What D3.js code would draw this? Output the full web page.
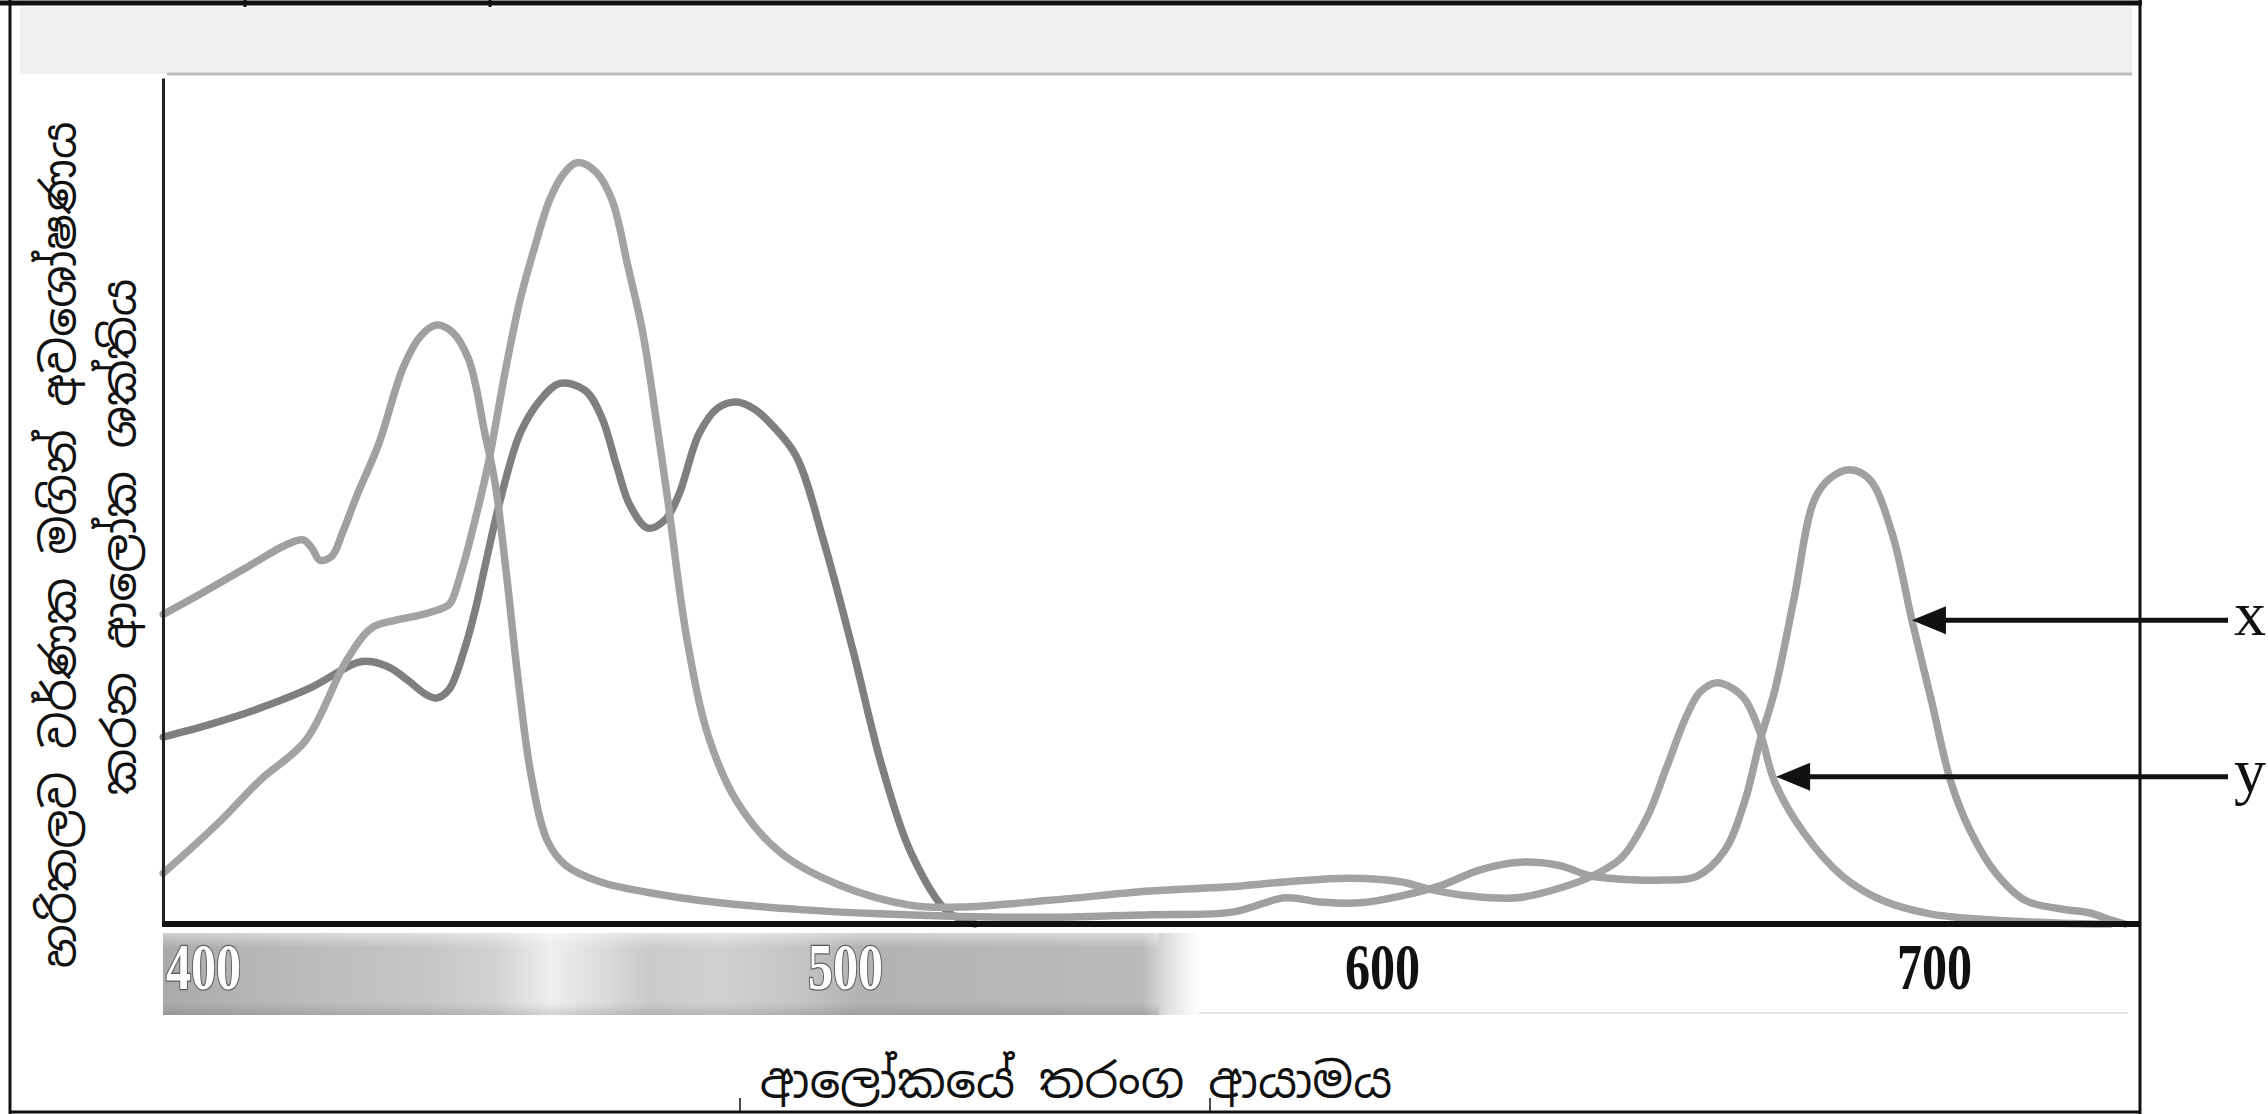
<!DOCTYPE html>
<html>
<head>
<meta charset="utf-8">
<script src="https://d3js.org/d3.v7.min.js"></script>
<style>
body { margin: 0; background: #fff; }
svg { display: block; }
</style>
</head>
<body>
<script>
// Data (wavelength in nm, relative absorbance 0-100)
var tickValues = [400, 500, 600, 700];

var chlANm = [393.8, 399.8, 406.7, 412.9, 415.6, 417.0, 418.2, 420.1, 421.7, 424.0, 427.3, 431.2, 433.8, 436.3,
    438.8, 441.4, 443.9, 445.5, 447.2, 449.1, 451.1, 453.6, 456.4, 461.8, 469.6, 480.5, 493.0, 506.5, 521.4,
    538.2, 556.8, 572.1, 582.0, 588.5, 595.9, 603.3, 610.5, 617.8, 625.0, 632.2, 637.7, 643.5, 650.7, 656.9,
    662.1, 665.8, 668.5, 671.2, 674.6, 678.3, 681.2, 684.8, 688.4, 692.4, 696.0, 699.5, 703.1, 706.5, 711.1,
    716.5, 722.8, 728.3, 731.9, 734.6];
var chlAAbs = [36.6, 39.1, 42.1, 44.8, 45.4, 44.4, 43.0, 43.5, 46.2, 50.7, 56.6, 65.8, 69.4, 70.8,
    70.0, 66.7, 58.0, 52.1, 41.8, 28.8, 17.6, 9.9, 7.0, 5.0, 3.7, 2.5, 1.7, 1.2, 0.9,
    0.8, 1.1, 1.4, 3.1, 2.6, 2.5, 3.3, 4.5, 6.4, 7.3, 6.9, 5.7, 5.3, 5.2, 5.6,
    8.7, 14.7, 21.7, 27.7, 38.3, 50.1, 52.7, 53.7, 52.5, 46.2, 35.9, 26.5, 16.7, 11.1, 6.1,
    2.8, 1.8, 1.3, 0.5, 0];

var chlBNm = [393.8, 402.2, 408.9, 416.0, 422.4, 426.3, 429.9, 433.8, 437.5, 438.5, 440.3, 442.2, 444.4, 447.2,
    449.4, 451.7, 454.0, 456.2, 458.3, 461.2, 463.7, 466.2, 468.5, 470.9, 472.4, 475.4, 478.8, 483.3, 490.0,
    499.1, 512.3, 521.4, 538.2, 556.8, 571.7, 582.5, 594.0, 603.3, 608.7, 615.9, 624.5, 633.0, 639.1, 643.5,
    648.0, 651.6, 655.1, 657.6, 660.5, 663.4, 665.8, 668.5, 671.2, 676.4, 683.5, 690.6, 699.3, 710.1, 722.8, 731.9];
var chlBAbs = [6.0, 11.8, 17.0, 21.7, 31.2, 35.0, 35.9, 36.5, 37.4, 37.9, 41.8, 47.2, 54.3, 65.8,
    73.8, 80.1, 85.6, 88.7, 90.0, 88.9, 85.6, 77.7, 69.9, 58.0, 50.1, 33.6, 22.0, 14.3, 8.4,
    4.6, 2.2, 2.0, 2.8, 3.9, 4.4, 5.0, 5.4, 5.0, 4.1, 3.3, 3.1, 4.4, 6.0, 7.9,
    12.6, 18.6, 24.5, 27.4, 28.5, 27.9, 26.5, 22.6, 16.7, 10.8, 5.6, 2.8, 1.2, 0.5, 0.1, 0];

var caroteneNm = [393.8, 401.1, 408.1, 416.7, 424.0, 426.3, 429.1, 431.9, 434.6, 436.3, 438.3, 440.7, 442.4, 443.9,
    446.3, 449.4, 452.5, 455.6, 459.5, 462.1, 464.5, 466.5, 469.3, 472.0, 474.1, 477.3, 480.2, 483.2, 486.0,
    488.6, 492.4, 496.7, 501.5, 506.9, 512.3, 519.0, 524.2];
var caroteneAbs = [22.1, 23.6, 25.3, 27.9, 30.9, 31.0, 30.3, 28.8, 27.2, 26.7, 27.7, 32.4, 37.1, 42.2,
    50.1, 58.0, 61.9, 63.9, 63.1, 59.9, 54.0, 49.5, 46.8, 47.8, 50.7, 58.0, 61.0, 61.7, 60.8,
    59.0, 55.3, 45.2, 32.3, 18.6, 8.4, 1.5, 0];

// pointers on the right
var arrowLabels = ["x", "y"];
var arrowNm = [696.0, 671.4];
var arrowAbs = [35.9, 17.4];

// grey spectrum strip under the axis
var spectrumNm = [393.8, 414.8, 434.6, 445.5, 454.2, 463.0, 469.5, 480.5, 491.5, 503.1, 529.2, 555.3, 560.5, 565.9];
var spectrumGrey = [170, 186, 198, 210, 238, 218, 202, 209, 198, 178, 182, 186, 226, 255];

var yLabelLines = ["හරිතලව වර්ණක මගින් අවශෝෂණය", "කරන ආලෝක ශක්තිය"];
var xLabel = "ආලෝකයේ තරංග ආයාමය";

var sinhalaFont = "'Noto Sans Sinhala', 'Noto Serif Sinhala', 'Iskoola Pota', 'LKLUG', 'Noto Sans', sans-serif";

// SVG area
var svgWidth = 2268;
var svgHeight = 1114;

var plot = { left: 163, top: 78, right: 2140, bottom: 924 };

var svg = d3.select("body")
    .append("svg")
    .attr("width", svgWidth)
    .attr("height", svgHeight);

var defs = svg.append("defs");

// scales: the printed tick labels are not evenly spaced, so the x scale is piecewise
var xScale = d3.scaleLinear()
    .domain(tickValues)
    .range([203, 845, 1382, 1934]);

var yScale = d3.scaleLinear()
    .domain([0, 100])
    .range([plot.bottom, plot.top]);

// light grey band at the top of the frame
svg.append("rect")
    .attr("x", 20).attr("y", 7)
    .attr("width", 2112).attr("height", 67)
    .attr("fill", "#f0f0f0");
svg.append("line")
    .attr("x1", plot.left + 4).attr("x2", 2132)
    .attr("y1", 74).attr("y2", 74)
    .attr("stroke", "#bdbdbd").attr("stroke-width", 3);

// spectrum strip
var specX0 = xScale(spectrumNm[0]);
var specX1 = xScale(spectrumNm[spectrumNm.length - 1]);

var specGrad = defs.append("linearGradient")
    .attr("id", "spec")
    .attr("gradientUnits", "userSpaceOnUse")
    .attr("x1", specX0).attr("x2", specX1)
    .attr("y1", 0).attr("y2", 0);

specGrad.selectAll("stop")
    .data(spectrumNm)
    .enter()
    .append("stop")
    .attr("offset", d => (xScale(d) - specX0) / (specX1 - specX0))
    .attr("stop-color", (d, i) => d3.rgb(spectrumGrey[i], spectrumGrey[i], spectrumGrey[i]));

var shadeGrad = defs.append("linearGradient")
    .attr("id", "shade")
    .attr("x1", 0).attr("x2", 0).attr("y1", 0).attr("y2", 1);
shadeGrad.append("stop").attr("offset", 0).attr("stop-color", "#fff").attr("stop-opacity", 0.45);
shadeGrad.append("stop").attr("offset", 0.18).attr("stop-color", "#fff").attr("stop-opacity", 0);
shadeGrad.append("stop").attr("offset", 0.85).attr("stop-color", "#000").attr("stop-opacity", 0);
shadeGrad.append("stop").attr("offset", 1).attr("stop-color", "#000").attr("stop-opacity", 0.12);

svg.append("rect")
    .attr("x", plot.left).attr("y", 933)
    .attr("width", specX1 - plot.left).attr("height", 82)
    .attr("fill", "url(#spec)");
svg.append("rect")
    .attr("x", plot.left).attr("y", 933)
    .attr("width", specX1 - plot.left - 40).attr("height", 82)
    .attr("fill", "url(#shade)");
svg.append("line")
    .attr("x1", specX1).attr("x2", 2128)
    .attr("y1", 1013).attr("y2", 1013)
    .attr("stroke", "#e2e2e2").attr("stroke-width", 2);

// curves
var line = d3.line()
    .x(d => xScale(d[0]))
    .y(d => yScale(d[1]))
    .curve(d3.curveCatmullRom.alpha(0.5));

var series = [
    { nm: caroteneNm, abs: caroteneAbs, colour: "#7f7f7f" },
    { nm: chlBNm, abs: chlBAbs, colour: "#a3a3a3" },
    { nm: chlANm, abs: chlAAbs, colour: "#a0a0a0" }
];

svg.selectAll(".curve")
    .data(series)
    .enter()
    .append("path")
    .attr("class", "curve")
    .attr("d", s => line(d3.zip(s.nm, s.abs)))
    .attr("fill", "none")
    .attr("stroke", s => s.colour)
    .attr("stroke-width", 7.5)
    .attr("stroke-linejoin", "round")
    .attr("stroke-linecap", "round");

// axes
svg.append("g")
    .attr("transform", "translate(" + plot.left + ",0)")
    .call(d3.axisLeft(yScale).ticks(0).tickSizeOuter(0))
    .select(".domain")
    .attr("stroke", "#222")
    .attr("stroke-width", 3);

svg.append("line")
    .attr("x1", plot.left - 1).attr("x2", plot.right)
    .attr("y1", plot.bottom).attr("y2", plot.bottom)
    .attr("stroke", "#111").attr("stroke-width", 6);

// tick labels sit on the strip; the first one is cut by the left edge
defs.append("clipPath")
    .attr("id", "tickclip")
    .append("rect")
    .attr("x", plot.left + 2).attr("y", -80)
    .attr("width", plot.right - plot.left).attr("height", 120);

var xAxis = svg.append("g")
    .attr("transform", "translate(0," + 989 + ")")
    .attr("clip-path", "url(#tickclip)")
    .call(d3.axisBottom(xScale).tickValues(tickValues).tickSize(0).tickPadding(0).tickFormat(d3.format("d")));

xAxis.select(".domain").remove();

xAxis.selectAll("text")
    .attr("dy", 0)
    .attr("y", 0)
    .attr("transform", "scale(0.76,1)")
    .style("font-family", "'Liberation Serif', 'Times New Roman', serif")
    .style("font-weight", "bold")
    .style("font-size", "66px")
    .style("fill", d => xScale(d) < specX1 ? "#fff" : "#111")
    .style("stroke", d => xScale(d) < specX1 ? "#5a5a5a" : "none")
    .style("stroke-width", 2.5)
    .style("paint-order", "stroke");

// axis titles
svg.append("text")
    .attr("x", 1076)
    .attr("y", 1097)
    .attr("text-anchor", "middle")
    .style("font-family", sinhalaFont)
    .style("font-size", "48px")
    .style("fill", "#111")
    .text(xLabel);

svg.selectAll(".ylabel")
    .data(yLabelLines)
    .enter()
    .append("text")
    .attr("class", "ylabel")
    .attr("transform", (d, i) => "translate(" + (76 + i * 60) + "," + (545 - i * 8) + ") rotate(-90)")
    .attr("text-anchor", "middle")
    .style("font-family", sinhalaFont)
    .style("font-size", "46px")
    .style("fill", "#111")
    .text(d => d);

// frame
var frame = svg.append("g").attr("stroke", "#111").attr("fill", "none");
frame.append("line").attr("x1", 0).attr("x2", 2142).attr("y1", 3).attr("y2", 3).attr("stroke-width", 5);
frame.append("line").attr("x1", 10).attr("x2", 10).attr("y1", 0).attr("y2", 1114).attr("stroke-width", 3);
frame.append("line").attr("x1", 2140).attr("x2", 2140).attr("y1", 0).attr("y2", 1114).attr("stroke-width", 3);
frame.append("line").attr("x1", 10).attr("x2", 2140).attr("y1", 1112).attr("y2", 1112).attr("stroke-width", 3);
[245, 490].forEach(function(x) {
    frame.append("line").attr("x1", x).attr("x2", x).attr("y1", 0).attr("y2", 7).attr("stroke-width", 3);
});
[740, 1210].forEach(function(x) {
    frame.append("line").attr("x1", x).attr("x2", x).attr("y1", 1098).attr("y2", 1112).attr("stroke-width", 1.5);
});

// x / y pointers
var pointers = svg.selectAll(".pointer")
    .data(arrowLabels)
    .enter()
    .append("g")
    .attr("class", "pointer")
    .attr("transform", (d, i) => "translate(" + xScale(arrowNm[i]) + "," + yScale(arrowAbs[i]) + ")");

pointers.append("line")
    .attr("x1", 30)
    .attr("x2", (d, i) => 2228 - xScale(arrowNm[i]))
    .attr("y1", 0).attr("y2", 0)
    .attr("stroke", "#111")
    .attr("stroke-width", 5);

pointers.append("path")
    .attr("d", "M0,0L34,-14L34,14Z")
    .attr("fill", "#111");

pointers.append("text")
    .attr("x", (d, i) => 2234 - xScale(arrowNm[i]))
    .attr("y", 15)
    .style("font-family", "'Liberation Serif', 'Times New Roman', serif")
    .style("font-size", "64px")
    .style("fill", "#111")
    .text(d => d);
</script>
</body>
</html>
